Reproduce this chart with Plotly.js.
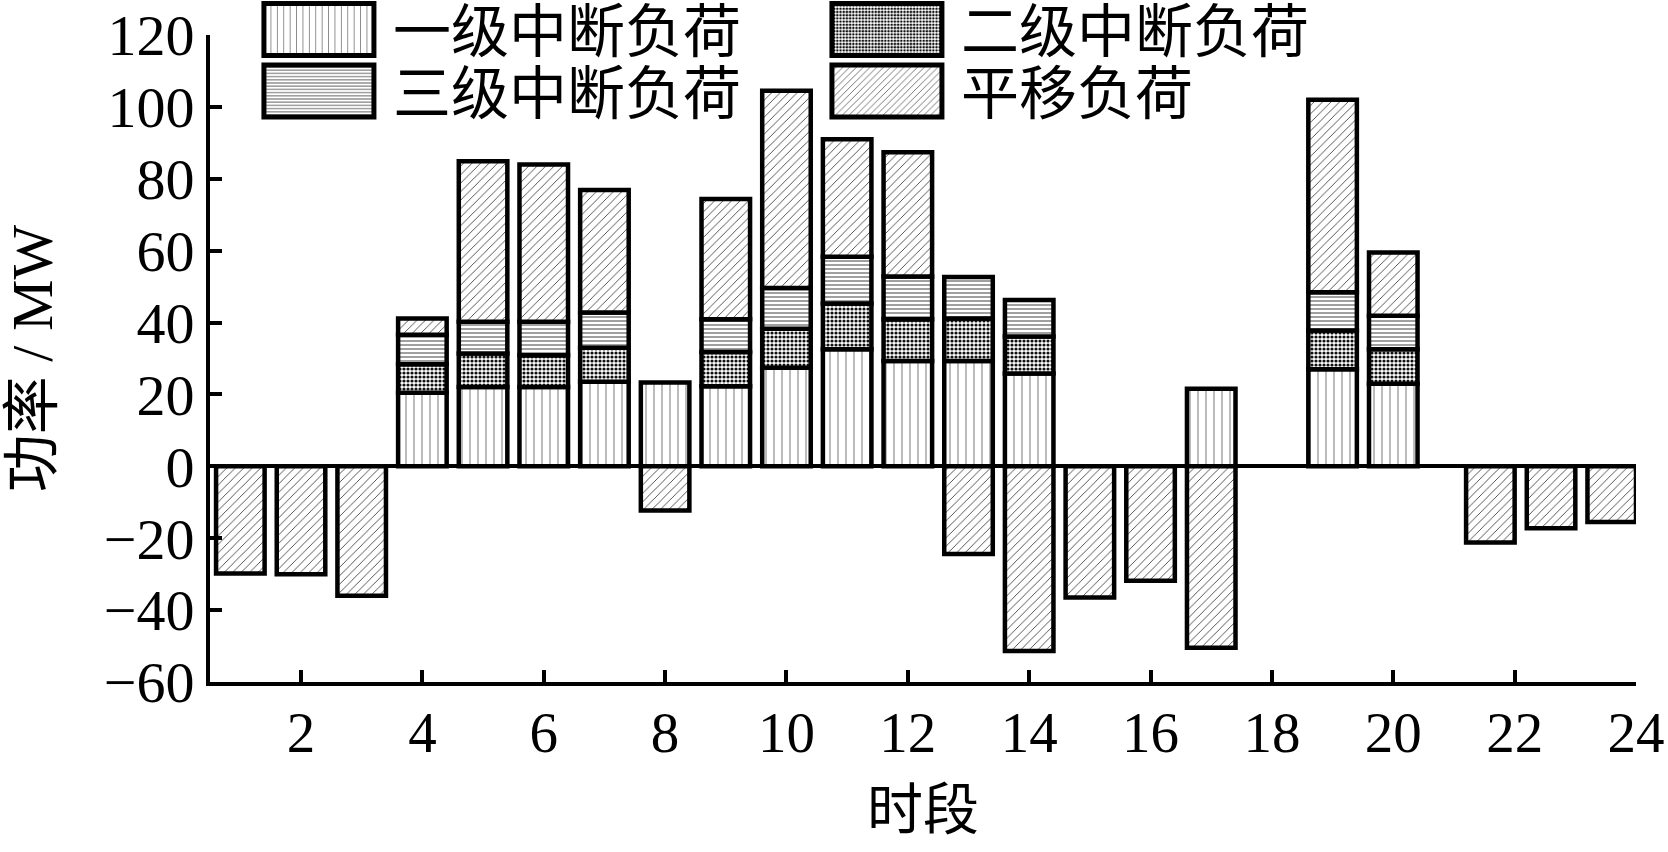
<!DOCTYPE html>
<html>
<head>
<meta charset="utf-8">
<script src="https://cdn.plot.ly/plotly-3.0.1.min.js"></script>
<style>
  html, body { margin: 0; padding: 0; background: #ffffff; }
  #chart { width: 1668px; height: 852px; }
</style>
</head>
<body>
<div id="chart"></div>
<script>
// ---- data ----
const periods = [1,2,3,4,5,6,7,8,9,10,11,12,13,14,15,16,17,18,19,20,21,22,23,24];
const seriesNames = ['一级中断负荷', '二级中断负荷', '三级中断负荷', '平移负荷'];
const level1 = [null,null,null,20.5,22.1,22.1,23.5,23.3,22.3,27.4,32.6,29.3,29.3,25.8,null,null,21.6,null,27.0,23.0,null,null,null,null];
const level2 = [null,null,null,7.9,9.3,8.8,9.5,null,9.5,10.9,12.7,11.6,11.8,10.3,null,null,null,null,10.8,9.6,null,null,null,null];
const level3 = [null,null,null,8.2,8.8,9.3,9.8,null,9.1,11.3,13.0,11.9,11.6,10.2,null,null,null,null,10.6,9.3,null,null,null,null];
const shifted = [-29.8,-30.0,-36.0,4.5,44.7,43.8,34.1,-12.3,33.5,54.9,32.7,34.6,-24.4,-51.4,-36.5,-31.8,-50.5,null,53.6,17.6,null,-21.2,-17.2,-15.5];
const yTickVals = [-60,-40,-20,0,20,40,60,80,100,120];
const xTickVals = [2,4,6,8,10,12,14,16,18,20,22,24];

const FONT = '"Liberation Serif", "Noto Sans CJK SC", serif';
const CJK = '"Noto Sans CJK SC", "Liberation Serif", sans-serif';

const patterns = [
  {shape: '|', size: 8, solidity: 0.1, fgcolor: '#555', bgcolor: '#ffffff', fillmode: 'replace'},
  {shape: '.', size: 4, solidity: 0.5, fgcolor: '#111', bgcolor: '#ffffff', fillmode: 'replace'},
  {shape: '-', size: 4, solidity: 0.28, fgcolor: '#555', bgcolor: '#ffffff', fillmode: 'replace'},
  {shape: '/', size: 6, solidity: 0.15, fgcolor: '#444', bgcolor: '#ffffff', fillmode: 'replace'}
];
const seriesValues = [level1, level2, level3, shifted];
const legendIds = ['legend', 'legend', 'legend2', 'legend2'];

const traces = seriesValues.map(function (vals, i) {
  const t = {
    type: 'bar',
    name: seriesNames[i],
    x: periods,
    y: vals,
    width: 0.8,
    legend: legendIds[i],
    marker: {
      color: '#ffffff',
      pattern: patterns[i],
      line: {color: '#000000', width: 4.5}
    },
    hoverinfo: 'x+y+name'
  };
  if (i === 3) {
    // the last three shifted-load bars sit left of their tick in the reference
    t.offset = periods.map(function (p) { return p > 21 ? -0.8 : -0.4; });
  }
  return t;
});

const legendCommon = {
  orientation: 'h',
  xanchor: 'left',
  yanchor: 'middle',
  x: 0.0245,
  itemwidth: 138,
  entrywidth: 415,
  entrywidthmode: 'pixels',
  traceorder: 'normal',
  bgcolor: 'rgba(0,0,0,0)',
  borderwidth: 0,
  font: {family: CJK, size: 58, color: '#000'},
  itemclick: false,
  itemdoubleclick: false
};

const layout = {
  width: 1668,
  height: 852,
  margin: {l: 210, r: 32, t: 35, b: 170, pad: 0, autoexpand: false},
  paper_bgcolor: '#ffffff',
  plot_bgcolor: '#ffffff',
  barmode: 'relative',
  showlegend: true,
  legend: Object.assign({}, legendCommon, {y: 1.008}),
  legend2: Object.assign({}, legendCommon, {y: 0.913}),
  font: {family: FONT, color: '#000', size: 57},
  xaxis: {
    range: [0.5, 24],
    tickvals: xTickVals,
    ticktext: xTickVals.map(String),
    showgrid: false,
    zeroline: false,
    showline: true,
    linecolor: '#000',
    linewidth: 4,
    ticks: 'inside',
    ticklen: 12,
    tickwidth: 4,
    tickcolor: '#000',
    ticklabelstandoff: -2,
    tickfont: {family: FONT, size: 57, color: '#000'},
    automargin: false,
    title: {text: '时段', font: {family: CJK, size: 56, color: '#000'}, standoff: 26}
  },
  yaxis: {
    range: [-60, 120],
    tickvals: yTickVals,
    showgrid: false,
    zeroline: true,
    zerolinecolor: '#000',
    zerolinewidth: 4,
    showline: true,
    linecolor: '#000',
    linewidth: 4,
    ticks: 'inside',
    ticklen: 12,
    tickwidth: 4,
    tickcolor: '#000',
    ticklabelstandoff: 0,
    tickfont: {family: FONT, size: 58, color: '#000'},
    automargin: false,
    title: {text: '功率 / MW', font: {family: FONT, size: 58, color: '#000'}, standoff: 46}
  }
};

const gd = document.getElementById('chart');

function enlargeLegendSwatches() {
  // enlarge the legend swatches to the large boxes of the reference
  gd.querySelectorAll('.legendpoints path').forEach(function (p) {
    p.setAttribute('d', 'M55,26H-55V-26H55Z');
    p.style.strokeWidth = '5px';
  });
}

Plotly.newPlot(gd, traces, layout, {displayModeBar: false, staticPlot: true}).then(function () {
  enlargeLegendSwatches();
  gd.on('plotly_afterplot', enlargeLegendSwatches);
  setTimeout(enlargeLegendSwatches, 50);
  setTimeout(enlargeLegendSwatches, 300);
});
</script>
</body>
</html>
